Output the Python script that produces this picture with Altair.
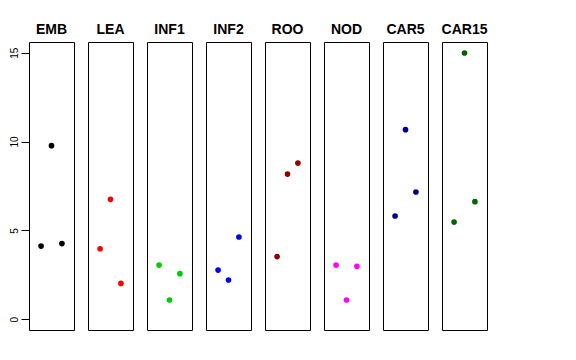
import altair as alt
import pandas as pd

categories = ["EMB", "LEA", "INF1", "INF2", "ROO", "NOD", "CAR5", "CAR15"]
colors = ["#000000", "#FF0000", "#00CD00", "#0000FF", "#8B0000", "#FF00FF", "#00008B", "#006400"]
positions = [1, 2, 3]
values = {
    "EMB": [4.12, 9.77, 4.26],
    "LEA": [3.97, 6.75, 2.02],
    "INF1": [3.05, 1.09, 2.57],
    "INF2": [2.77, 2.21, 4.63],
    "ROO": [3.53, 8.17, 8.79],
    "NOD": [3.05, 1.09, 2.98],
    "CAR5": [5.81, 10.67, 7.16],
    "CAR15": [5.47, 14.98, 6.62],
}
y_ticks = [0, 5, 10, 15]

rows = []
for cat in categories:
    for p, v in zip(positions, values[cat]):
        rows.append({"group": cat, "pos": p, "value": v})
df = pd.DataFrame(rows)

panels = []
for i, (cat, col) in enumerate(zip(categories, colors)):
    if i == 0:
        yaxis = alt.Axis(values=y_ticks, grid=False, domain=False, tickSize=8,
                         tickColor="black", labelAngle=270, labelAlign="center",
                         labelBaseline="bottom", labelFontSize=10, labelPadding=2,
                         labelColor="black", labelFont="Liberation Sans", title=None)
    else:
        yaxis = None
    c = (
        alt.Chart(df[df["group"] == cat], title=alt.TitleParams(cat, fontSize=14, font="Liberation Sans",
                                                                  fontWeight="bold", offset=5, color="black"))
        .mark_point(filled=True, size=32, opacity=1, color=col)
        .encode(
            x=alt.X("pos:Q", scale=alt.Scale(domain=[-0.16, 4.16], nice=False, zero=False), axis=None),
            y=alt.Y("value:Q", scale=alt.Scale(domain=[-0.6, 15.6], nice=False, zero=False), axis=yaxis),
        )
        .properties(width=45, height=288)
    )
    panels.append(c)

chart = (
    alt.hconcat(*panels, spacing=12)
    .properties(padding={"left": 0, "top": 14, "right": 5, "bottom": 5})
    .configure_view(stroke="black", strokeWidth=1)
)

chart.save("out.html", embed_options={"renderer": "svg", "actions": False})
